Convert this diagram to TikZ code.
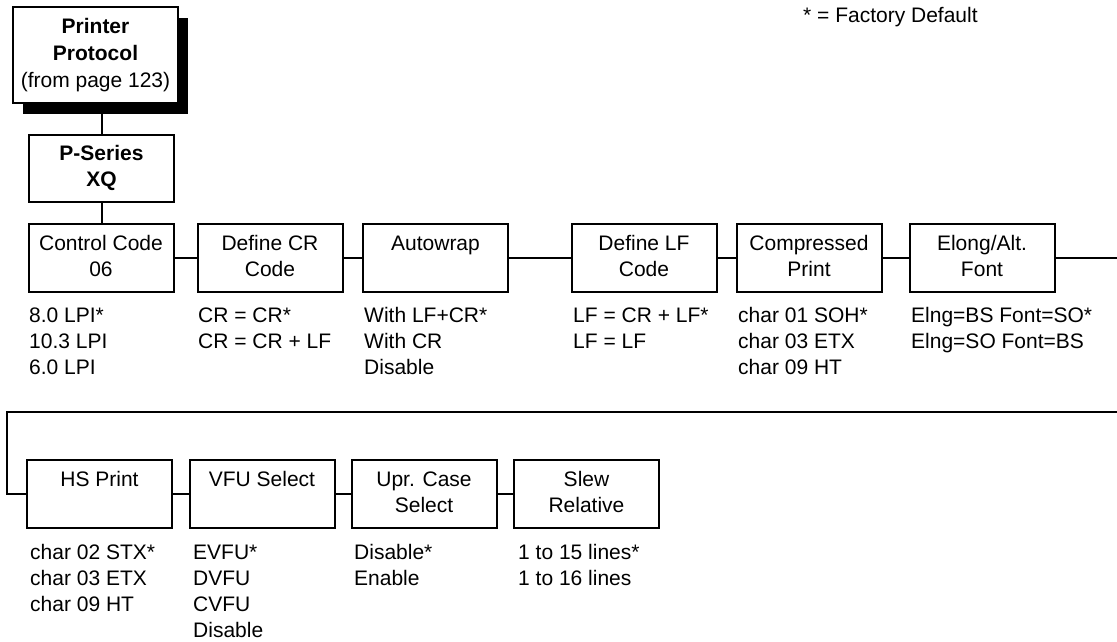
\documentclass[tikz,border=0pt]{standalone}
\usepackage{fontspec}
\setmainfont{Liberation Sans}
\usetikzlibrary{shadows}
\newcommand{\mlines}[1]{\begin{tabular}{@{}c@{}}#1\end{tabular}}
\newcommand{\llines}[1]{\begin{tabular}{@{}l@{}}#1\end{tabular}}
\begin{document}
\begin{tikzpicture}[x=1pt,y=-1pt,
  every node/.style={font=\fontsize{21}{26}\selectfont},
  menubox/.style={draw, line width=2pt, minimum width=145pt, minimum height=68pt, inner sep=0pt},
  opts/.style={anchor=north west, inner sep=0pt},
  link/.style={line width=2pt}]
\useasboundingbox (0,0) rectangle (1117,641);

% header
\node[anchor=base west, inner sep=0pt] (fd) at (803,22.5) {* = Factory Default};

% top boxes
\node[menubox, minimum width=165pt, minimum height=96pt, fill=white,
      drop shadow={shadow xshift=10pt, shadow yshift=-11pt, fill=black, opacity=1}]
      (pp) at (95.5,55) {\fontsize{21}{27}\selectfont\mlines{\textbf{Printer}\\\textbf{Protocol}\\(from page 123)}};
\node[menubox, minimum height=67pt] (ps) at (101.5,168.5) {\mlines{\textbf{P-Series}\\\textbf{XQ}}};

% row 1
\node[menubox] (cc)  at (101,258)   {\mlines{Control Code\\06}};
\node[menubox] (dcr) at (270,258)   {\mlines{Define CR\\Code}};
\node[menubox] (aw)  at (435.5,258) {\mlines{Autowrap\\~}};
\node[menubox] (dlf) at (644,258)   {\mlines{Define LF\\Code}};
\node[menubox] (cp)  at (809,258)   {\mlines{Compressed\\Print}};
\node[menubox] (el)  at (982,258)   {\mlines{Elong/Alt.\\Font}};

\node[opts] (cco)  at (29,304.3)  {\llines{8.0 LPI*\\10.3 LPI\\6.0 LPI}};
\node[opts] (dcro) at (198,304.3) {\llines{CR = CR*\\CR = CR + LF}};
\node[opts] (awo)  at (364,304.3) {\llines{With LF+CR*\\With CR\\Disable}};
\node[opts] (dlfo) at (573,304.3) {\llines{LF = CR + LF*\\LF = LF}};
\node[opts] (cpo)  at (738,304.3) {\llines{char 01 SOH*\\char 03 ETX\\char 09 HT}};
\node[opts] (elo)  at (911,304.3) {\llines{Elng=BS Font=SO*\\Elng=SO Font=BS}};

% row 2
\node[menubox] (hs)  at (99.5,494)  {\mlines{HS Print\\~}};
\node[menubox] (vfu) at (262,494)   {\mlines{VFU Select\\~}};
\node[menubox] (upr) at (424,494)   {\mlines{Upr. Case\\Select}};
\node[menubox] (sr)  at (586.5,494) {\mlines{Slew\\Relative}};

\node[opts] (hso)  at (30,541.3)  {\llines{char 02 STX*\\char 03 ETX\\char 09 HT}};
\node[opts] (vfuo) at (193,541.3) {\llines{EVFU*\\DVFU\\CVFU\\Disable}};
\node[opts] (upro) at (354,541.3) {\llines{Disable*\\Enable}};
\node[opts] (sro)  at (518,541.3) {\llines{1 to 15 lines*\\1 to 16 lines}};

% connectors
\draw[link] (ps.north |- pp.south) -- (ps.north);
\draw[link] (ps.south) -- (ps.south |- cc.north);
\draw[link] (cc) -- (dcr);
\draw[link] (dcr) -- (aw);
\draw[link] (aw) -- (dlf);
\draw[link] (dlf) -- (cp);
\draw[link] (cp) -- (el);
\coordinate (r1end) at (1117,258);
\draw[link] (el) -- (r1end);
\coordinate (r2start) at (1117,412);
\coordinate (lc) at (7,412);
\draw[link] (r2start) -- (lc) |- (hs);
\draw[link] (hs) -- (vfu);
\draw[link] (vfu) -- (upr);
\draw[link] (upr) -- (sr);
\end{tikzpicture}
\end{document}
